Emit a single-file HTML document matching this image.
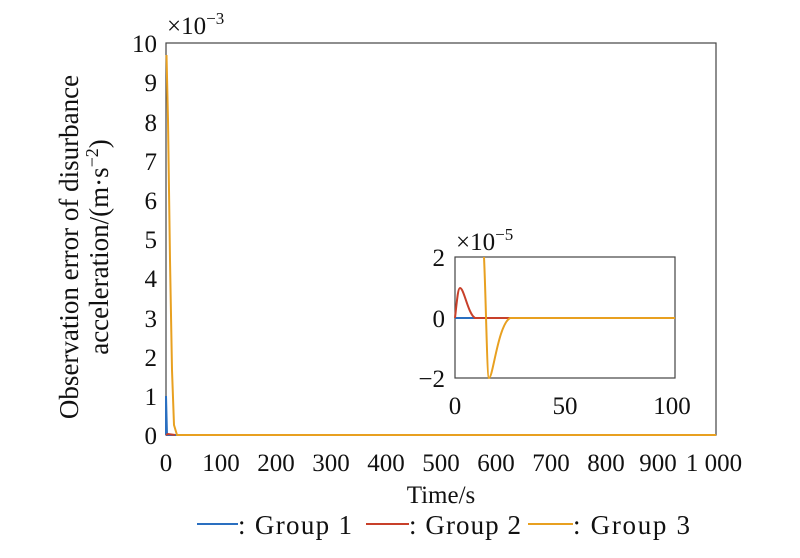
<!DOCTYPE html>
<html><head><style>
body{margin:0;background:#fff;}
svg text{font-family:"Liberation Serif",serif;fill:#111;}
</style></head><body>
<svg width="800" height="553" xmlns="http://www.w3.org/2000/svg">
<g font-size="25">
<rect x="166" y="43" width="550" height="392" fill="none" stroke="#444" stroke-width="1.2"/>
<g text-anchor="end">
<text x="157" y="444">0</text><text x="157" y="405">1</text><text x="157" y="366">2</text>
<text x="157" y="327">3</text><text x="157" y="287">4</text><text x="157" y="248">5</text>
<text x="157" y="209">6</text><text x="157" y="170">7</text><text x="157" y="131">8</text>
<text x="157" y="91">9</text><text x="157" y="52">10</text>
</g>
<text x="167" y="34">×10<tspan font-size="17" dy="-10">−3</tspan></text>
<g text-anchor="middle">
<text x="166" y="471">0</text><text x="221" y="471">100</text><text x="276" y="471">200</text>
<text x="331" y="471">300</text><text x="386" y="471">400</text><text x="441" y="471">500</text>
<text x="496" y="471">600</text><text x="551" y="471">700</text><text x="606" y="471">800</text>
<text x="658" y="471">900</text><text x="714" y="471">1 000</text>
<text x="441" y="503">Time/s</text>
</g>
<text transform="translate(78,247) rotate(-90)" text-anchor="middle" font-size="27">Observation error of disurbance</text>
<text transform="translate(108,247) rotate(-90)" text-anchor="middle" font-size="27">acceleration/(m·s<tspan font-size="18" dy="-10">−2</tspan><tspan dy="10">)</tspan></text>
<polyline points="166,435 166,396 167,435 716,435" fill="none" stroke="#2a6fc0" stroke-width="2"/>
<polyline points="166,435 168,434 175,435" fill="none" stroke="#c8402a" stroke-width="2"/>
<polyline points="166.5,55 168,120 170,260 172,370 174,425 177,435 716,435" fill="none" stroke="#e8a020" stroke-width="2"/>
<rect x="455" y="257" width="220" height="121" fill="#fff" stroke="#444" stroke-width="1.2"/>
<g text-anchor="end">
<text x="445" y="266">2</text><text x="445" y="327">0</text><text x="445" y="387">−2</text>
</g>
<text x="456" y="250">×10<tspan font-size="17" dy="-10">−5</tspan></text>
<g text-anchor="middle">
<text x="455" y="414">0</text><text x="565" y="414">50</text><text x="672" y="414">100</text>
</g>
<polyline points="455,318 675,318" fill="none" stroke="#2a6fc0" stroke-width="2"/>
<path d="M455,318 C457,300 458,288 460,288 C464,288 468,314 475,318 L510,318" fill="none" stroke="#c8402a" stroke-width="2"/>
<path d="M484,257 C486,300 487,378 489,378 C493,378 498,325 510,318 L675,318" fill="none" stroke="#e8a020" stroke-width="2"/>
<g font-size="27">
<line x1="197" y1="524" x2="238" y2="524" stroke="#2a6fc0" stroke-width="2"/>
<text x="238" y="534" textLength="114" lengthAdjust="spacing">: Group 1</text>
<line x1="366" y1="524" x2="409" y2="524" stroke="#c8402a" stroke-width="2"/>
<text x="409" y="534" textLength="112" lengthAdjust="spacing">: Group 2</text>
<line x1="528" y1="524" x2="573" y2="524" stroke="#e8a020" stroke-width="2"/>
<text x="573" y="534" textLength="117" lengthAdjust="spacing">: Group 3</text>
</g>
</g>
</svg>
</body></html>
